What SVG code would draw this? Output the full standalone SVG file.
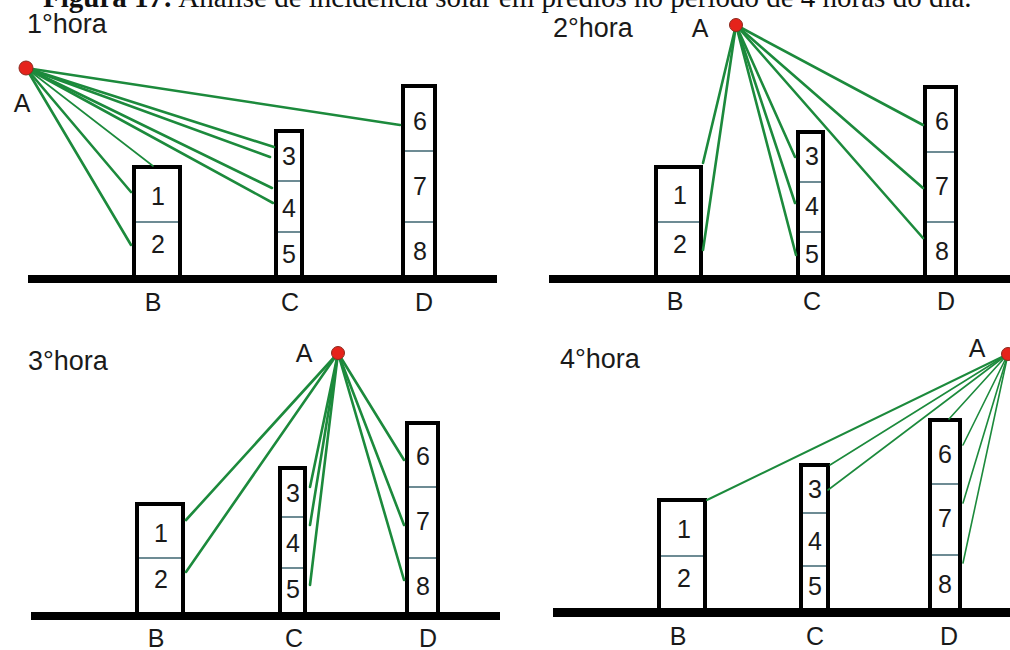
<svg xmlns="http://www.w3.org/2000/svg" width="1010" height="650" viewBox="0 0 1010 650">
  <style>
    .caption { font-family: "Liberation Serif", "Times New Roman", serif; font-size: 29px; fill: #111; }
    .caption .b { font-weight: bold; }
    .hour { font-family: "Liberation Sans", Arial, sans-serif; font-size: 27px; fill: #1a1a1a; }
    .lbl { font-family: "Liberation Sans", Arial, sans-serif; font-size: 25px; fill: #1a1a1a; text-anchor: middle; }
    .bld { fill: #ffffff; stroke: #000; stroke-width: 4; }
    .div { stroke: #3d6470; stroke-width: 1.5; }
    .ground { fill: #000; }
    .ray { stroke: #1c8a3c; stroke-width: 2.6; fill: none; stroke-linecap: round; }
    .ray-thin { stroke: #1c8a3c; stroke-width: 1.6; fill: none; stroke-linecap: round; }
    .sun { fill: #e5231b; stroke: #8c2a1e; stroke-width: 1; }
  </style>

  <!-- caption (top edge clipped) -->
  <text class="caption" x="43" y="7"><tspan class="b">Figura 17:</tspan> Análise de incidência solar em prédios no período de 4 horas do dia.</text>

  <!-- ============ 1st hour ============ -->
  <g id="hour1">
    <text class="hour" x="27" y="33">1°hora</text>
    <rect class="ground" x="28" y="275" width="469" height="8"/>
    <g id="h1-B">
      <rect class="bld" x="134" y="167" width="46" height="110"/>
      <line class="div" x1="136" y1="222" x2="178" y2="222"/>
      <text class="lbl" x="158" y="205">1</text>
      <text class="lbl" x="158" y="253">2</text>
      <text class="lbl" x="153" y="311">B</text>
    </g>
    <g id="h1-C">
      <rect class="bld" x="276" y="131" width="26" height="146"/>
      <line class="div" x1="278" y1="181" x2="300" y2="181"/>
      <line class="div" x1="278" y1="232" x2="300" y2="232"/>
      <text class="lbl" x="289" y="165">3</text>
      <text class="lbl" x="289" y="217">4</text>
      <text class="lbl" x="289" y="263">5</text>
      <text class="lbl" x="290" y="311">C</text>
    </g>
    <g id="h1-D">
      <rect class="bld" x="403" y="86" width="32" height="191"/>
      <line class="div" x1="405" y1="151" x2="433" y2="151"/>
      <line class="div" x1="405" y1="222" x2="433" y2="222"/>
      <text class="lbl" x="420" y="130">6</text>
      <text class="lbl" x="420" y="195">7</text>
      <text class="lbl" x="420" y="260">8</text>
      <text class="lbl" x="424" y="311">D</text>
    </g>
    <g id="h1-rays">
      <line class="ray" x1="26" y1="68" x2="131" y2="192"/>
      <line class="ray" x1="26" y1="68" x2="131" y2="245"/>
      <line class="ray-thin" x1="26" y1="68" x2="153" y2="166"/>
      <line class="ray" x1="26" y1="68" x2="274" y2="147"/>
      <line class="ray" x1="26" y1="68" x2="270" y2="157"/>
      <line class="ray" x1="26" y1="68" x2="272" y2="188"/>
      <line class="ray" x1="26" y1="68" x2="273" y2="203"/>
      <line class="ray" x1="26" y1="68" x2="400" y2="125"/>
    </g>
    <g id="h1-A">
      <circle class="sun" cx="26" cy="68" r="7"/>
      <text class="lbl" x="22" y="112">A</text>
    </g>
  </g>

  <!-- ============ 2nd hour ============ -->
  <g id="hour2">
    <text class="hour" x="553" y="37">2°hora</text>
    <rect class="ground" x="549" y="275" width="461" height="8"/>
    <g id="h2-B">
      <rect class="bld" x="656" y="167" width="45" height="110"/>
      <line class="div" x1="658" y1="222" x2="699" y2="222"/>
      <text class="lbl" x="680" y="204">1</text>
      <text class="lbl" x="680" y="253">2</text>
      <text class="lbl" x="675" y="310">B</text>
    </g>
    <g id="h2-C">
      <rect class="bld" x="798" y="132" width="25" height="145"/>
      <line class="div" x1="800" y1="182" x2="821" y2="182"/>
      <line class="div" x1="800" y1="232" x2="821" y2="232"/>
      <text class="lbl" x="812" y="165">3</text>
      <text class="lbl" x="812" y="215">4</text>
      <text class="lbl" x="812" y="263">5</text>
      <text class="lbl" x="812" y="310">C</text>
    </g>
    <g id="h2-D">
      <rect class="bld" x="925" y="87" width="31" height="190"/>
      <line class="div" x1="927" y1="152" x2="954" y2="152"/>
      <line class="div" x1="927" y1="222" x2="954" y2="222"/>
      <text class="lbl" x="942" y="130">6</text>
      <text class="lbl" x="942" y="195">7</text>
      <text class="lbl" x="942" y="260">8</text>
      <text class="lbl" x="946" y="310">D</text>
    </g>
    <g id="h2-rays">
      <line class="ray" x1="736" y1="25" x2="703" y2="163"/>
      <line class="ray" x1="736" y1="25" x2="703" y2="250"/>
      <line class="ray" x1="736" y1="25" x2="795" y2="157"/>
      <line class="ray" x1="736" y1="25" x2="795" y2="203"/>
      <line class="ray" x1="736" y1="25" x2="796" y2="255"/>
      <line class="ray" x1="736" y1="25" x2="923" y2="125"/>
      <line class="ray" x1="736" y1="25" x2="923" y2="188"/>
      <line class="ray" x1="736" y1="25" x2="923" y2="238"/>
    </g>
    <g id="h2-A">
      <circle class="sun" cx="736" cy="25" r="6.5"/>
      <text class="lbl" x="700" y="37">A</text>
    </g>
  </g>

  <!-- ============ 3rd hour ============ -->
  <g id="hour3">
    <text class="hour" x="28" y="370">3°hora</text>
    <rect class="ground" x="31" y="612" width="469" height="8"/>
    <g id="h3-B">
      <rect class="bld" x="137" y="504" width="46" height="110"/>
      <line class="div" x1="139" y1="558" x2="181" y2="558"/>
      <text class="lbl" x="161" y="542">1</text>
      <text class="lbl" x="161" y="588">2</text>
      <text class="lbl" x="156" y="647">B</text>
    </g>
    <g id="h3-C">
      <rect class="bld" x="280" y="468" width="25" height="146"/>
      <line class="div" x1="282" y1="517" x2="303" y2="517"/>
      <line class="div" x1="282" y1="568" x2="303" y2="568"/>
      <text class="lbl" x="293" y="502">3</text>
      <text class="lbl" x="293" y="552">4</text>
      <text class="lbl" x="293" y="598">5</text>
      <text class="lbl" x="294" y="647">C</text>
    </g>
    <g id="h3-D">
      <rect class="bld" x="407" y="423" width="31" height="191"/>
      <line class="div" x1="409" y1="487" x2="436" y2="487"/>
      <line class="div" x1="409" y1="558" x2="436" y2="558"/>
      <text class="lbl" x="423" y="465">6</text>
      <text class="lbl" x="423" y="530">7</text>
      <text class="lbl" x="423" y="595">8</text>
      <text class="lbl" x="428" y="647">D</text>
    </g>
    <g id="h3-rays">
      <line class="ray" x1="338" y1="353" x2="186" y2="520"/>
      <line class="ray" x1="338" y1="353" x2="186" y2="572"/>
      <line class="ray" x1="338" y1="353" x2="310" y2="487"/>
      <line class="ray" x1="338" y1="353" x2="310" y2="525"/>
      <line class="ray" x1="338" y1="353" x2="310" y2="585"/>
      <line class="ray" x1="338" y1="353" x2="404" y2="460"/>
      <line class="ray" x1="338" y1="353" x2="404" y2="525"/>
      <line class="ray" x1="338" y1="353" x2="404" y2="580"/>
    </g>
    <g id="h3-A">
      <circle class="sun" cx="338" cy="353" r="6.5"/>
      <text class="lbl" x="304" y="362">A</text>
    </g>
  </g>

  <!-- ============ 4th hour ============ -->
  <g id="hour4">
    <text class="hour" x="560" y="368">4°hora</text>
    <rect class="ground" x="553" y="608" width="457" height="9"/>
    <g id="h4-B">
      <rect class="bld" x="659" y="500" width="46" height="110"/>
      <line class="div" x1="661" y1="556" x2="703" y2="556"/>
      <text class="lbl" x="684" y="538">1</text>
      <text class="lbl" x="684" y="587">2</text>
      <text class="lbl" x="678" y="645">B</text>
    </g>
    <g id="h4-C">
      <rect class="bld" x="801" y="465" width="27" height="145"/>
      <line class="div" x1="803" y1="513" x2="826" y2="513"/>
      <line class="div" x1="803" y1="566" x2="826" y2="566"/>
      <text class="lbl" x="815" y="498">3</text>
      <text class="lbl" x="815" y="550">4</text>
      <text class="lbl" x="815" y="595">5</text>
      <text class="lbl" x="815" y="645">C</text>
    </g>
    <g id="h4-D">
      <rect class="bld" x="930" y="420" width="30" height="190"/>
      <line class="div" x1="932" y1="484" x2="958" y2="484"/>
      <line class="div" x1="932" y1="555" x2="958" y2="555"/>
      <text class="lbl" x="945" y="463">6</text>
      <text class="lbl" x="945" y="527">7</text>
      <text class="lbl" x="945" y="593">8</text>
      <text class="lbl" x="949" y="645">D</text>
    </g>
    <g id="h4-rays">
      <line class="ray" x1="1008" y1="354" x2="707" y2="500" style="stroke-width:2"/>
      <line class="ray-thin" x1="1008" y1="354" x2="830" y2="465"/>
      <line class="ray-thin" x1="1008" y1="354" x2="828" y2="490"/>
      <line class="ray-thin" x1="1008" y1="354" x2="949" y2="419"/>
      <line class="ray-thin" x1="1008" y1="354" x2="963" y2="445"/>
      <line class="ray-thin" x1="1008" y1="354" x2="963" y2="503"/>
      <line class="ray-thin" x1="1008" y1="354" x2="963" y2="563"/>
    </g>
    <g id="h4-A">
      <circle class="sun" cx="1008" cy="354" r="6.5"/>
      <text class="lbl" x="977" y="357">A</text>
    </g>
  </g>
</svg>
